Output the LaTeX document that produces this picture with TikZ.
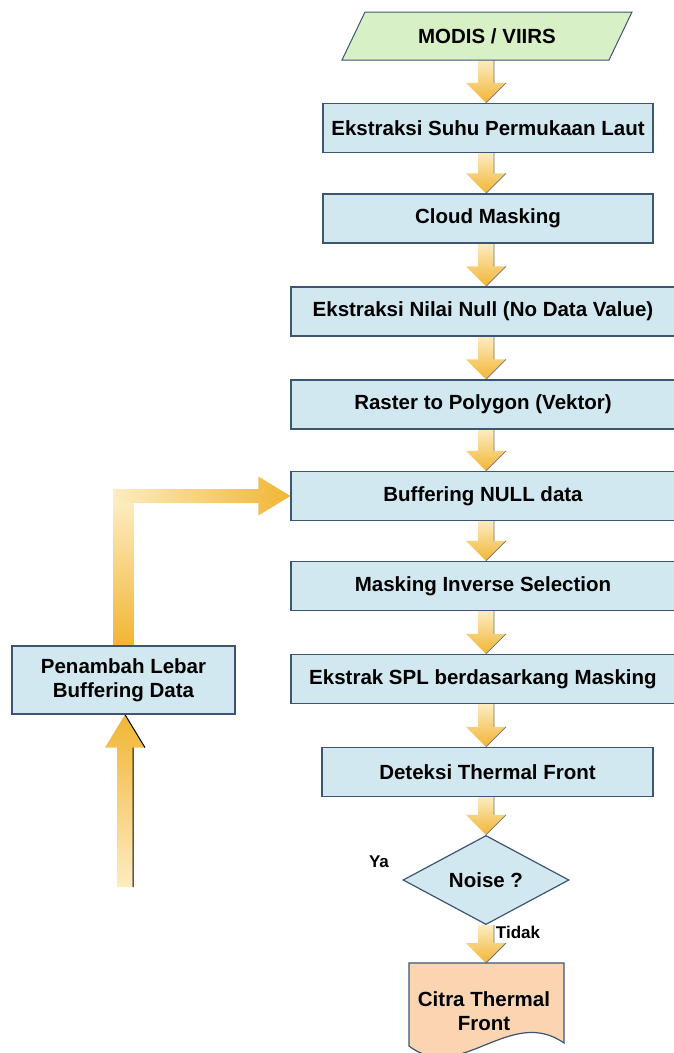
\documentclass[tikz,border=0pt]{standalone}
\usepackage{fontspec}
\setmainfont{Liberation Sans}
\usetikzlibrary{calc,shapes.geometric,backgrounds}
\definecolor{boxfill}{RGB}{209,232,240}
\definecolor{boxline}{RGB}{60,85,115}
\definecolor{greenfill}{RGB}{216,240,198}
\definecolor{peach}{RGB}{251,213,178}
\definecolor{arrlight}{RGB}{253,236,192}
\definecolor{arrdark}{RGB}{241,181,52}
\tikzset{
  lbl/.style={font=\bfseries\fontsize{20.5}{24}\selectfont, inner sep=0pt, align=center},
  box/.style={lbl, draw=boxline, fill=boxfill, line width=1.2pt, minimum height=49pt},
  small/.style={font=\bfseries\fontsize{17}{20}\selectfont, inner sep=0pt},
  arredge/.style={draw=black!55, line width=0.8pt},
}
\newcommand\flowdown[2]{%
  \shade[top color=arrlight,bottom color=arrdark] let \p1=(#1.south -| col), \p2=(#2.north -| col) in
    (\x1-8pt,\y1) -- (\x1+8pt,\y1) -- (\x1+8pt,\y2+20pt) -- (\x1+20pt,\y2+20pt) -- (\x1,\y2)
    -- (\x1-20pt,\y2+20pt) -- (\x1-8pt,\y2+20pt) -- cycle;
  \draw[arredge] let \p1=(#1.south -| col), \p2=(#2.north -| col) in
    (\x1+8pt,\y1) -- (\x1+8pt,\y2+20pt) (\x1+20pt,\y2+20pt) -- (\x1,\y2);
}
\begin{document}
\begin{tikzpicture}[x=1pt,y=-1pt]
\useasboundingbox (0,0) rectangle (673,1053);
\coordinate (col) at (486,0);
\coordinate (upbot) at (125,887);

% parallelogram
\draw[draw=boxline, fill=greenfill, line width=1pt]
  (365,12) -- (632,12) -- (609,60) -- (342,60) -- cycle;
\node[lbl, minimum width=267pt, minimum height=48pt] (modis) at (487,36) {MODIS / VIIRS};

\node[box, minimum width=330pt] (s1) at (488,128) {Ekstraksi Suhu Permukaan Laut};
\node[box, minimum width=330pt] (s2) at (488,218.5) {Cloud Masking};
\node[box, minimum width=384pt] (s3) at (483,311.5) {Ekstraksi Nilai Null (No Data Value)};
\node[box, minimum width=384pt] (s4) at (483,404.5) {Raster to Polygon (Vektor)};
\node[box, minimum width=384pt] (s5) at (483,496) {Buffering NULL data};
\node[box, minimum width=384pt] (s6) at (483,586) {Masking Inverse Selection};
\node[box, minimum width=384pt] (s7) at (483,679) {Ekstrak SPL berdasarkang Masking};
\node[box, minimum width=331pt] (s8) at (487.5,772) {Deteksi Thermal Front};

\node[lbl, shape=diamond, draw=boxline, fill=boxfill, line width=1.2pt,
  minimum width=166pt, minimum height=84pt] (noise) at (486,880) {Noise ?};

% document shape
\draw[draw=boxline, fill=peach, line width=1.2pt]
  (409,963) -- (564,963) -- (564,1043)
  .. controls (510,1005) and (460,1085) .. (409,1046) -- cycle;
\node[inner sep=0pt, minimum width=155pt, minimum height=84pt, anchor=north] (doc) at (486.5,963) {};
\node[lbl] (doctext) at (484,1011) {Citra Thermal\\Front};

\node[box, minimum width=223pt, minimum height=68pt] (pen) at (123.5,680) {Penambah Lebar\\Buffering Data};

\node[small] (ya) at (379,862) {Ya};
\node[small] (tidak) at (518,932) {Tidak};

\begin{scope}[on background layer]
\flowdown{modis}{s1}
\flowdown{s1}{s2}
\flowdown{s2}{s3}
\flowdown{s3}{s4}
\flowdown{s4}{s5}
\flowdown{s5}{s6}
\flowdown{s6}{s7}
\flowdown{s7}{s8}
\flowdown{s8}{noise}
\flowdown{noise}{doc}
% L-shaped arrow from Penambah to Buffering
\shade[top color=arrlight, bottom color=arrdark] let \p1=(pen.north), \p2=(s5.west) in
  (\x1-10pt,\y1) rectangle (\x1+10pt,\y2-7pt);
\shade[left color=arrlight, right color=arrdark] let \p1=(pen.north), \p2=(s5.west) in
  (\x1-10pt,\y2+7pt) -- (\x2-32pt,\y2+7pt) -- (\x2-32pt,\y2+19.5pt) -- (\x2,\y2)
  -- (\x2-32pt,\y2-19.5pt) -- (\x2-32pt,\y2-7pt) -- (\x1-10pt,\y2-7pt) -- cycle;
% up arrow into Penambah
\shade[top color=arrdark, bottom color=arrlight] let \p1=(upbot), \p2=(pen.south -| upbot) in
  (\x1-8pt,\y1) -- (\x1+8pt,\y1) -- (\x1+8pt,\y2-33pt) -- (\x1+20pt,\y2-33pt) -- (\x1,\y2)
  -- (\x1-20pt,\y2-33pt) -- (\x1-8pt,\y2-33pt) -- cycle;
\draw[black, line width=1pt] let \p1=(upbot), \p2=(pen.south -| upbot) in
  (\x1+8pt,\y1) -- (\x1+8pt,\y2-33pt) (\x1+20pt,\y2-33pt) -- (\x1,\y2);
\end{scope}
\end{tikzpicture}
\end{document}
